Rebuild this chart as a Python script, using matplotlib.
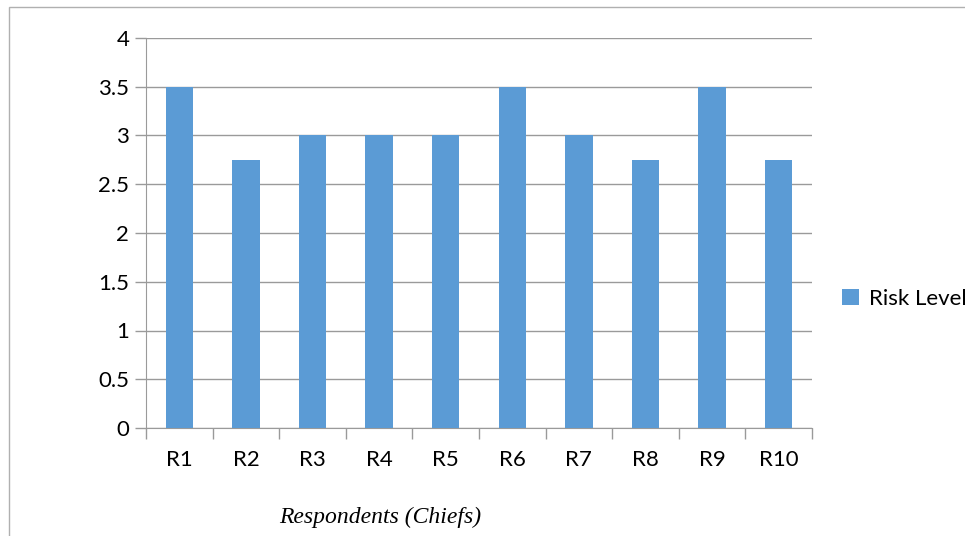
import numpy as np
import matplotlib.pyplot as plt
from matplotlib.patches import Rectangle

respondents = ["R1", "R2", "R3", "R4", "R5", "R6", "R7", "R8", "R9", "R10"]
risk_level = [3.5, 2.75, 3, 3, 3, 3.5, 3, 2.75, 3.5, 2.75]
y_ticks = [0, 0.5, 1, 1.5, 2, 2.5, 3, 3.5, 4]
y_tick_labels = ["0", "0.5", "1", "1.5", "2", "2.5", "3", "3.5", "4"]

W, H = 965, 536
fig = plt.figure(figsize=(W / 100, H / 100), dpi=100)
ax = fig.add_axes([146 / W, 1 - 428 / H, (812 - 146) / W, (428 - 38) / H])

# outer chart border (right and bottom edges cut off in the original)
fig.patches.append(Rectangle((9 / W, -0.05), 1.2, 1 - 7 / H + 0.05,
                             transform=fig.transFigure, fill=False,
                             edgecolor="#b0b0b0", lw=1.0))

x = np.arange(len(respondents))
bars = ax.bar(x, risk_level, width=0.41, color="#5B9BD5", zorder=3,
              label="Risk Level")

ax.set_xlim(-0.5, len(respondents) - 0.5)
ax.set_ylim(0, 4)
ax.set_yticks(y_ticks)
ax.set_yticklabels(y_tick_labels)
ax.yaxis.grid(True, color="#9a9a9a", lw=1.0, zorder=0)

ax.set_xticks(x)
ax.set_xticklabels(respondents)
ax.set_xticks(np.arange(-0.5, len(respondents)), minor=True)
ax.tick_params(axis="x", which="major", length=0, pad=16)
ax.tick_params(axis="x", which="minor", length=8, color="#9a9a9a", width=1.0)
ax.tick_params(axis="y", length=8, color="#9a9a9a", width=1.0, pad=4)
ax.tick_params(labelsize=16)
for lab in ax.get_xticklabels() + ax.get_yticklabels():
    lab.set_fontfamily("Lato")

for side in ["top", "right"]:
    ax.spines[side].set_visible(False)
ax.spines["left"].set_color("#9a9a9a")
ax.spines["bottom"].set_color("#9a9a9a")

fig.text(380 / W, 1 - 517 / H, "Respondents (Chiefs)", ha="center", va="center",
         fontsize=17, style="italic", family="Liberation Serif")

leg = fig.legend(handles=[bars], labels=["Risk Level"], loc="center left",
                 bbox_to_anchor=(842 / W, 1 - 299 / H), frameon=False,
                 borderpad=0, borderaxespad=0,
                 handlelength=0.75, handleheight=0.75, handletextpad=0.45,
                 prop={"family": "Lato", "size": 16})

fig.savefig("out.png", dpi=100)
